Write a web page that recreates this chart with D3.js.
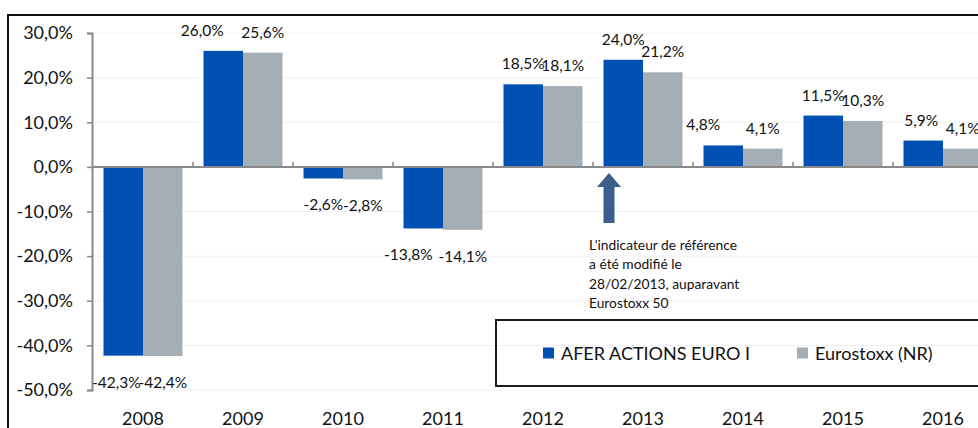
<!DOCTYPE html>
<html>
<head>
<meta charset="utf-8">
<script src="https://cdn.jsdelivr.net/npm/d3@7"></script>
<style>
  body { margin: 0; background: #fff; }
  text { font-family: Lato, "Open Sans", sans-serif; fill: #111; }
</style>
</head>
<body>
<div id="chart"></div>
<script>
// the data
var years = ["2008", "2009", "2010", "2011", "2012", "2013", "2014", "2015", "2016"];
var afer = [-42.3, 26.0, -2.6, -13.8, 18.5, 24.0, 4.8, 11.5, 5.9];
var eurostoxx = [-42.4, 25.6, -2.8, -14.1, 18.1, 21.2, 4.1, 10.3, 4.1];
var seriesNames = ["AFER ACTIONS EURO I", "Eurostoxx (NR)"];
var yTicks = [30, 20, 10, 0, -10, -20, -30, -40, -50];
var note = ["L'indicateur de référence", "a été modifié le", "28/02/2013, auparavant", "Eurostoxx 50"];

// labels of the blue bars were moved by hand in the original
var blueNudge = [-7, -21, 0, -15, 0, 0, -20, 0, -2];

var colors = ["#0050b4", "#a5aeb5"];

var W = 978, H = 428;
var svg = d3.select("#chart").append("svg")
  .attr("width", W).attr("height", H);

var fr = d3.formatLocale({decimal: ",", thousands: " ", grouping: [3], currency: ["", "€"], minus: "-"});
var fmt = fr.format(".1f");

// scales
var x0 = d3.scaleBand().domain(years).range([93, 993]).padding(0);
var x1 = d3.scaleBand().domain([0, 1]).range([10.5, 89.5]).padding(0);
var y = d3.scaleLinear().domain([-50, 30]).range([390, 33]);

// outer frame
svg.append("rect")
  .attr("x", 8).attr("y", 15).attr("width", 1000).attr("height", 500)
  .attr("fill", "none").attr("stroke", "#111").attr("stroke-width", 2);

// gridlines
svg.append("g").selectAll("line").data(yTicks).join("line")
  .attr("x1", 92).attr("x2", W)
  .attr("y1", function(d) { return y(d); }).attr("y2", function(d) { return y(d); })
  .attr("stroke", "#f0f0f0").attr("stroke-width", 1);

// bars
var rows = years.map(function(yr, i) { return {year: yr, i: i, vals: [afer[i], eurostoxx[i]]}; });
var groups = svg.append("g").selectAll("g").data(rows).join("g")
  .attr("transform", function(d) { return "translate(" + x0(d.year) + ",0)"; });

groups.selectAll("rect").data(function(d) { return d.vals.map(function(v, k) { return {v: v, k: k}; }); })
  .join("rect")
    .attr("x", function(d) { return x1(d.k); })
    .attr("width", x1.bandwidth())
    .attr("y", function(d) { return y(Math.max(0, d.v)); })
    .attr("height", function(d) { return Math.abs(y(d.v) - y(0)); })
    .attr("fill", function(d) { return colors[d.k]; });

// data labels
groups.selectAll("text").data(function(d) { return d.vals.map(function(v, k) { return {v: v, k: k, i: d.i}; }); })
  .join("text")
    .attr("x", function(d) { return x1(d.k) + x1.bandwidth() / 2 + (d.k === 0 ? blueNudge[d.i] : 0); })
    .attr("y", function(d) { return d.v >= 0 ? y(d.v) - 21 : y(d.v) + 26; })
    .attr("text-anchor", "middle")
    .attr("dominant-baseline", "central")
    .style("font-size", "15.5px")
    .text(function(d) { return fmt(d.v) + "%"; });

// y axis
var yAxis = svg.append("g")
  .attr("transform", "translate(92,0)")
  .call(d3.axisLeft(y).tickValues(yTicks).tickSize(5).tickPadding(14)
    .tickFormat(function(d) { return fmt(d) + "%"; }));
yAxis.select(".domain").attr("stroke", "#898989").attr("stroke-width", 2);
yAxis.selectAll(".tick line").attr("stroke", "#898989").attr("stroke-width", 1.5);
yAxis.selectAll(".tick text").style("font-size", "18px").attr("fill", "#111")
  .style("font-family", "Lato, 'Open Sans', sans-serif");

// x axis line at zero with boundary ticks
svg.append("line")
  .attr("x1", 92).attr("x2", W).attr("y1", y(0)).attr("y2", y(0))
  .attr("stroke", "#898989").attr("stroke-width", 2);
svg.append("g").selectAll("line").data(years.slice(1)).join("line")
  .attr("x1", function(d) { return x0(d); }).attr("x2", function(d) { return x0(d); })
  .attr("y1", y(0)).attr("y2", y(0) - 5)
  .attr("stroke", "#898989").attr("stroke-width", 1.5);

// year labels at the bottom
svg.append("g").selectAll("text").data(years).join("text")
  .attr("x", function(d) { return x0(d) + x0.bandwidth() / 2; })
  .attr("y", 418)
  .attr("text-anchor", "middle")
  .attr("dominant-baseline", "central")
  .style("font-size", "18px")
  .text(function(d) { return d; });

// annotation arrow
var ax = x0("2013") + 16, ay = y(0) + 6;
svg.append("path")
  .attr("d", "M" + ax + "," + ay + " L" + (ax + 12) + "," + (ay + 14) + " L" + (ax + 5.5) + "," + (ay + 14) +
    " L" + (ax + 5.5) + "," + (ay + 50) + " L" + (ax - 5.5) + "," + (ay + 50) + " L" + (ax - 5.5) + "," + (ay + 14) +
    " L" + (ax - 12) + "," + (ay + 14) + "Z")
  .attr("fill", "#3b5e8c");

svg.append("g").selectAll("text").data(note).join("text")
  .attr("x", 589)
  .attr("y", function(d, i) { return 244 + i * 19.6; })
  .attr("dominant-baseline", "central")
  .style("font-size", "13.8px")
  .text(function(d) { return d; });

// legend
svg.append("rect")
  .attr("x", 496).attr("y", 320).attr("width", 600).attr("height", 66)
  .attr("fill", "none").attr("stroke", "#1a1a1a").attr("stroke-width", 2);
var legX = [543, 797];
var leg = svg.append("g").selectAll("g").data(seriesNames).join("g")
  .attr("transform", function(d, i) { return "translate(" + legX[i] + ",353)"; });
leg.append("rect").attr("x", 0).attr("y", -5.5).attr("width", 11).attr("height", 11)
  .attr("fill", function(d, i) { return colors[i]; });
leg.append("text").attr("x", 18).attr("y", 0)
  .attr("dominant-baseline", "central")
  .style("font-size", "18px")
  .text(function(d) { return d; });
</script>
</body>
</html>
